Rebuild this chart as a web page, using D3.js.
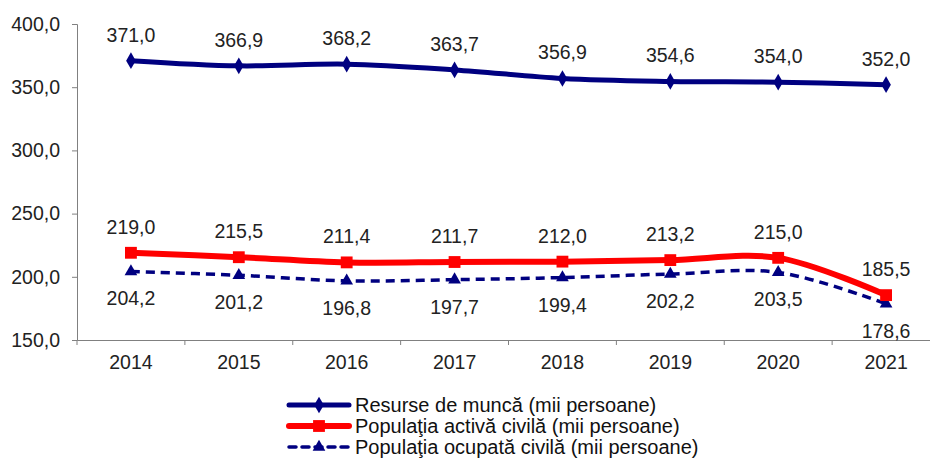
<!DOCTYPE html>
<html>
<head>
<meta charset="utf-8">
<script src="https://cdn.jsdelivr.net/npm/d3@7"></script>
<style>
  body { margin: 0; background: #fff; }
  svg { display: block; font-family: "Liberation Sans", Arial, sans-serif; }
</style>
</head>
<body>
<div id="chart"></div>
<script>
// Data
var years = ['2014', '2015', '2016', '2017', '2018', '2019', '2020', '2021'];
var resurse = [371.0, 366.9, 368.2, 363.7, 356.9, 354.6, 354.0, 352.0];
var activa = [219.0, 215.5, 211.4, 211.7, 212.0, 213.2, 215.0, 185.5];
var ocupata = [204.2, 201.2, 196.8, 197.7, 199.4, 202.2, 203.5, 178.6];
var yTicks = [150, 200, 250, 300, 350, 400];
var seriesNames = [
  'Resurse de muncă (mii persoane)',
  'Populaţia activă civilă (mii persoane)',
  'Populaţia ocupată civilă (mii persoane)'
];

var width = 930;
var height = 458;
var fontSize = '19.5px';
var fmt = function (v) { return v.toFixed(1).replace('.', ','); };

var svg = d3.select('#chart')
            .append('svg')
            .attr('width', width)
            .attr('height', height);

// Scales
var x = d3.scaleBand()
          .domain(years)
          .range([77, 940]);
var y = d3.scaleLinear()
          .domain([150, 400])
          .range([340, 24]);
var cx = function (d, i) { return x(years[i]) + x.bandwidth() / 2; };

// Axes
var yAxis = svg.append('g')
               .attr('transform', 'translate(77,0)')
               .call(d3.axisLeft(y).tickValues(yTicks).tickSize(5).tickFormat(fmt));
var xAxis = svg.append('g')
               .attr('transform', 'translate(0,340)')
               .call(d3.axisBottom(x).tickSize(0).tickPadding(15));
[yAxis, xAxis].forEach(function (g) {
  g.select('.domain').attr('stroke', '#808080');
  g.selectAll('.tick line').attr('stroke', '#808080');
  g.selectAll('text').attr('fill', '#222').style('font-size', fontSize);
});
yAxis.selectAll('text').attr('x', -17);
// category separator ticks
xAxis.selectAll('.sep')
     .data(d3.range(years.length + 1))
     .enter()
     .append('line')
     .attr('class', 'sep')
     .attr('x1', function (i) { return 77 + i * x.bandwidth(); })
     .attr('x2', function (i) { return 77 + i * x.bandwidth(); })
     .attr('y1', 0)
     .attr('y2', 5)
     .attr('stroke', '#808080');

var line = d3.line()
             .x(cx)
             .y(function (d) { return y(d); })
             .curve(d3.curveCatmullRom.alpha(0.5));

var navy = '#000080';
var red = '#ff0000';

// Series
svg.append('path').datum(ocupata)
   .attr('d', line).attr('fill', 'none')
   .attr('stroke', navy).attr('stroke-width', 3.5)
   .attr('stroke-dasharray', '9,6');
svg.append('path').datum(activa)
   .attr('d', line).attr('fill', 'none')
   .attr('stroke', red).attr('stroke-width', 6);
svg.append('path').datum(resurse)
   .attr('d', line).attr('fill', 'none')
   .attr('stroke', navy).attr('stroke-width', 5);

var diamond = d3.symbol().type(d3.symbolDiamond).size(80);
var square = d3.symbol().type(d3.symbolSquare).size(140);
var triangle = d3.symbol().type(d3.symbolTriangle).size(70);

function markers(data, sym, color) {
  svg.append('g').selectAll('path')
     .data(data)
     .enter()
     .append('path')
     .attr('d', sym)
     .attr('fill', color)
     .attr('transform', function (d, i) {
       return 'translate(' + cx(d, i) + ',' + y(d) + ')';
     });
}
markers(ocupata, triangle, navy);
markers(activa, square, red);
markers(resurse, diamond, navy);

// Value labels
function labels(data, dy) {
  svg.append('g').selectAll('text')
     .data(data)
     .enter()
     .append('text')
     .attr('x', cx)
     .attr('y', function (d) { return y(d) + dy; })
     .attr('text-anchor', 'middle')
     .attr('dominant-baseline', 'central')
     .attr('fill', '#222')
     .style('font-size', fontSize)
     .text(fmt);
}
labels(resurse, -26);
labels(activa, -26);
labels(ocupata, 27);

// Legend
var legend = svg.append('g').attr('transform', 'translate(289,0)');
var rows = [
  { name: seriesNames[0], color: navy, w: 5, dash: null, sym: diamond, y: 405 },
  { name: seriesNames[1], color: red, w: 6, dash: null, sym: square, y: 426 },
  { name: seriesNames[2], color: navy, w: 3.5, dash: '7,6', sym: triangle, y: 447 }
];
rows.forEach(function (r) {
  legend.append('line')
        .attr('x1', 0).attr('x2', 60)
        .attr('y1', r.y).attr('y2', r.y)
        .attr('stroke', r.color).attr('stroke-width', r.w)
        .attr('stroke-linecap', 'round')
        .attr('stroke-dasharray', r.dash);
  legend.append('path')
        .attr('d', r.sym)
        .attr('fill', r.color)
        .attr('transform', 'translate(30,' + r.y + ')');
  legend.append('text')
        .attr('x', 66).attr('y', r.y)
        .attr('dominant-baseline', 'central')
        .attr('fill', '#111')
        .style('font-size', '20px')
        .text(r.name);
});
</script>
</body>
</html>
